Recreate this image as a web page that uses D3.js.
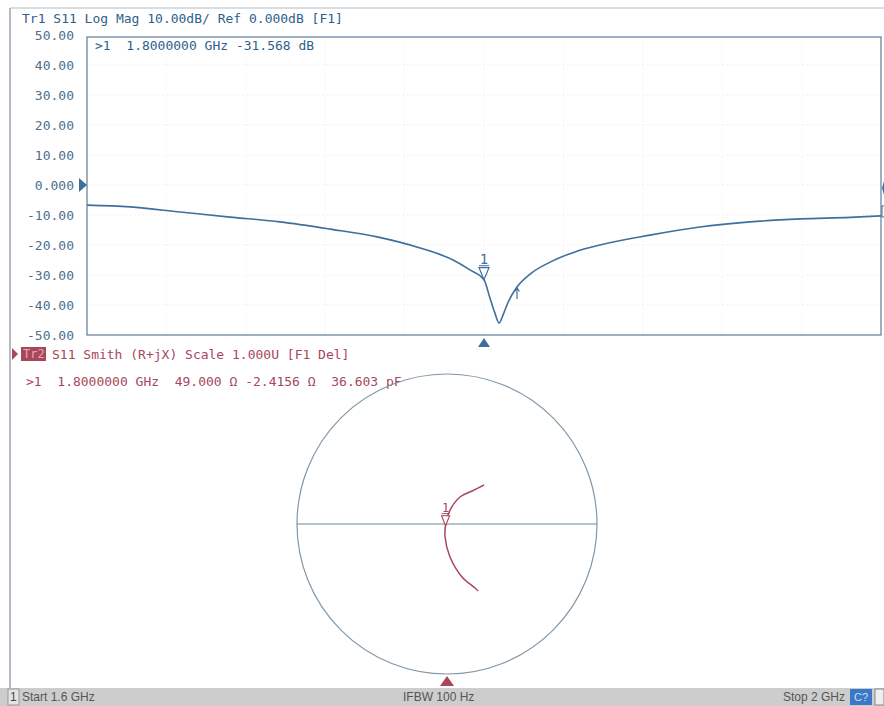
<!DOCTYPE html>
<html><head><meta charset="utf-8">
<script src="https://cdn.jsdelivr.net/npm/d3@7"></script>
<style>body{margin:0;background:#fff}svg{display:block}</style>
</head><body>
<script>
// ---- data ----
const freqGHz = [1.600,1.6217,1.6469,1.6720,1.6972,1.7224,1.7461,1.7678,1.7844,1.7929,1.8000,1.8030,1.8055,1.8076,1.8096,1.8122,1.8166,1.8232,1.8333,1.8458,1.8584,1.8836,1.9088,1.9340,1.9592,1.9844,2.0000];
const s11dB   = [-6.7,-7.3,-9.0,-10.7,-12.3,-14.7,-17.3,-21.0,-25.0,-28.3,-31.568,-37.7,-42.7,-46.0,-43.3,-39.0,-34.0,-29.7,-25.7,-22.3,-20.0,-16.7,-14.0,-12.3,-11.3,-10.8,-10.3];
const yTicks  = [50,40,30,20,10,0,-10,-20,-30,-40,-50];
const gammaRe = [0.207,0.187,0.100,0.020,-0.013,-0.007,0.020,0.087,0.167,0.247];
const gammaIm = [-0.447,-0.427,-0.353,-0.220,-0.087,0.007,0.093,0.180,0.220,0.260];
const marker = {f:1.8, dB:-31.568, R:49.0, X:-2.4156};

const W=884,H=706;
const blue="#3f6f9c", red="#a8475c", frame="#5a7c9a";
const mono="'DejaVu Sans Mono', monospace";
const svg=d3.select("body").append("svg").attr("width",W).attr("height",H);
svg.append("rect").attr("width",W).attr("height",H).attr("fill","#fff");

// outer frame
svg.append("line").attr("x1",10).attr("x2",10).attr("y1",8).attr("y2",688).attr("stroke","#9aa6b0").attr("stroke-width",1.5);
svg.append("line").attr("x1",10).attr("x2",W).attr("y1",8).attr("y2",8).attr("stroke","#b5bcc2");

// ---- Tr1 Log Mag ----
const L=87,R=881,T=35,B=335;
const x=d3.scaleLinear().domain([1.6,2.0]).range([L,R]);
const y=d3.scaleLinear().domain([-50,50]).range([B,T]);

const g=svg.append("g");
// grid
const xt=d3.range(0,11).map(i=>1.6+i*0.04);
g.selectAll(".vg").data(xt.slice(1,-1)).join("line").attr("x1",d=>x(d)).attr("x2",d=>x(d)).attr("y1",37).attr("y2",B)
 .attr("stroke","#e6e9ec").attr("stroke-dasharray","1,3");
g.selectAll(".hg").data(yTicks.slice(1,-1)).join("line").attr("x1",L).attr("x2",R).attr("y1",d=>y(d)).attr("y2",d=>y(d))
 .attr("stroke","#e6e9ec").attr("stroke-dasharray","1,3");
g.append("rect").attr("x",L).attr("y",37).attr("width",R-L).attr("height",B-37).attr("fill","none").attr("stroke",frame).attr("stroke-width",1.2);

const ax=svg.append("g").attr("transform",`translate(${L-10},0)`)
 .call(d3.axisLeft(y).tickValues(yTicks).tickSize(0).tickFormat(d=>d===0?"0.000":d.toFixed(2)));
ax.select(".domain").remove();
ax.selectAll("text").attr("font-family",mono).attr("font-size",13).attr("fill","#4d6f8e");

svg.append("text").attr("x",22).attr("y",23).text("Tr1 S11 Log Mag 10.00dB/ Ref 0.000dB [F1]")
 .attr("font-family",mono).attr("font-size",13).attr("fill","#2f5f8c");
svg.append("text").attr("x",95).attr("y",50).text(">1  1.8000000 GHz -31.568 dB")
 .attr("font-family",mono).attr("font-size",13).attr("fill","#2f5f8c").style("white-space","pre");

// trace
const line=d3.line().x((d,i)=>x(freqGHz[i])).y(d=>y(d)).curve(d3.curveMonotoneX);
svg.append("path").attr("d",line(s11dB)).attr("fill","none").attr("stroke",blue).attr("stroke-width",1.6);

// reference triangles
const ry=y(0);
svg.append("path").attr("d",`M${L-8},${ry-7}L${L},${ry}L${L-8},${ry+7}Z`).attr("fill",blue);
svg.append("path").attr("d",`M${W},${ry-4}L${R+1},${ry+3}L${W},${ry+10}Z`).attr("fill",blue);
svg.append("rect").attr("x",R+1).attr("y",206).attr("width",6).attr("height",11).attr("fill","#fff").attr("stroke",blue);
// marker 1
const mx=x(marker.f), my=y(marker.dB);
svg.append("path").attr("d",`M${mx-5},${my-12}L${mx+5},${my-12}L${mx},${my}Z`).attr("fill","#fff").attr("stroke",blue).attr("stroke-width",1.2);
svg.append("line").attr("x1",mx-5).attr("x2",mx+5).attr("y1",my-14).attr("y2",my-14).attr("stroke",blue);
svg.append("text").attr("x",mx).attr("y",my-16).attr("text-anchor","middle").text("1").attr("font-family",mono).attr("font-size",14).attr("fill",blue);
svg.append("path").attr("d",`M${mx-6},${B+12}L${mx+6},${B+12}L${mx},${B+3}Z`).attr("fill",blue);
// small arrow
const ax2=x(1.8166);
svg.append("path").attr("d",`M${ax2},${y(-38)}L${ax2},${y(-34.3)}M${ax2-2.5},${y(-35.5)}L${ax2},${y(-34.3)}L${ax2+2.5},${y(-35.5)}`).attr("fill","none").attr("stroke",blue).attr("stroke-width",1.2);

// ---- Tr2 Smith ----
svg.append("path").attr("d","M12,348L18,354L12,360Z").attr("fill",red);
svg.append("rect").attr("x",21).attr("y",347).attr("width",25).attr("height",14).attr("fill",red);
svg.append("text").attr("x",23).attr("y",358).text("Tr2").attr("font-family",mono).attr("font-size",12).attr("fill","#e8a6b0");
svg.append("text").attr("x",52).attr("y",359).text("S11 Smith (R+jX) Scale 1.000U [F1 Del]").attr("font-family",mono).attr("font-size",13).attr("fill",red);
svg.append("text").attr("x",26).attr("y",386).text(">1  1.8000000 GHz  49.000 Ω -2.4156 Ω  36.603 pF")
 .attr("font-family",mono).attr("font-size",13).attr("fill",red).style("white-space","pre");

const cx=447, cy=524, rad=150;
const gx=d3.scaleLinear().domain([-1,1]).range([cx-rad,cx+rad]);
const gy=d3.scaleLinear().domain([-1,1]).range([cy+rad,cy-rad]);
svg.append("circle").attr("cx",gx(0)).attr("cy",gy(0)).attr("r",gx(1)-gx(0)).attr("fill","none").attr("stroke","#7f97a8").attr("stroke-width",1.2);
svg.append("line").attr("x1",gx(-1)).attr("x2",gx(1)).attr("y1",gy(0)).attr("y2",gy(0)).attr("stroke","#6f8798").attr("stroke-width",1.2);
const sl=d3.line().x((d,i)=>gx(d)).y((d,i)=>gy(gammaIm[i])).curve(d3.curveCatmullRom);
svg.append("path").attr("d",sl(gammaRe)).attr("fill","none").attr("stroke",red).attr("stroke-width",1.5);
// marker gamma
const zr=marker.R, zx=marker.X, den=(zr+50)*(zr+50)+zx*zx;
const gr=((zr-50)*(zr+50)+zx*zx)/den, gi=(zx*(zr+50)-(zr-50)*zx)/den;
const smx=gx(gr), smy=gy(gi);
svg.append("path").attr("d",`M${smx-4},${smy-12}L${smx+4},${smy-12}L${smx},${smy-2}Z`).attr("fill","#fff").attr("stroke",red).attr("stroke-width",1.1);
svg.append("line").attr("x1",smx-4).attr("x2",smx+4).attr("y1",smy-14).attr("y2",smy-14).attr("stroke",red);
svg.append("text").attr("x",smx).attr("y",smy-16).attr("text-anchor","middle").text("1").attr("font-family",mono).attr("font-size",12).attr("fill",red);
svg.append("path").attr("d",`M${cx-7},${686}L${cx+7},${686}L${cx},${676}Z`).attr("fill",red);

// ---- status bar ----
svg.append("rect").attr("x",0).attr("y",688).attr("width",W).attr("height",18).attr("fill","#cdcdcd");
svg.append("rect").attr("x",8).attr("y",689).attr("width",11).attr("height",16).attr("fill","#e4e4e4").attr("stroke","#999");
const sans="'Liberation Sans', Arial, sans-serif";
svg.append("text").attr("x",10).attr("y",701).text("1").attr("font-family",sans).attr("font-size",12).attr("fill","#444");
svg.append("text").attr("x",22).attr("y",701).text("Start 1.6 GHz").attr("font-family",sans).attr("font-size",12).attr("fill","#555");
svg.append("text").attr("x",403).attr("y",701).text("IFBW 100 Hz").attr("font-family",sans).attr("font-size",12).attr("fill","#555");
svg.append("text").attr("x",845).attr("y",701).attr("text-anchor","end").text("Stop 2 GHz").attr("font-family",sans).attr("font-size",12).attr("fill","#555");
svg.append("rect").attr("x",850).attr("y",689).attr("width",22).attr("height",16).attr("fill","#3a78c8");
svg.append("text").attr("x",861).attr("y",701).attr("text-anchor","middle").text("C?").attr("font-family",sans).attr("font-size",11).attr("fill","#cfe0f5");
svg.append("rect").attr("x",875).attr("y",689).attr("width",9).attr("height",16).attr("fill","#eee").attr("stroke","#888");
</script>
</body></html>
